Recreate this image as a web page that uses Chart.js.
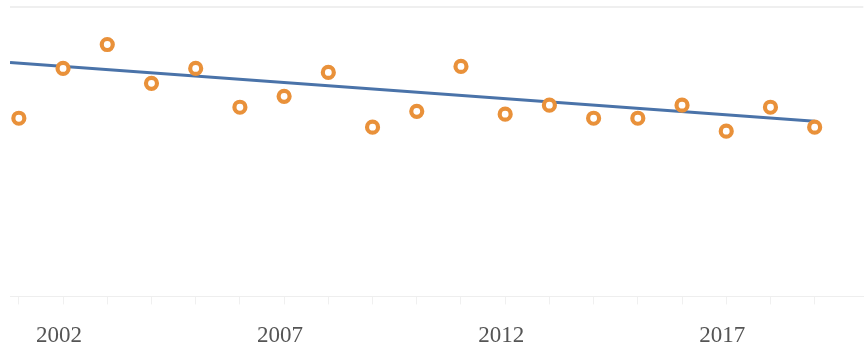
<!DOCTYPE html>
<html>
<head>
<meta charset="utf-8">
<script src="https://cdn.jsdelivr.net/npm/chart.js@4/dist/chart.umd.min.js"></script>
<style>
html,body{margin:0;padding:0;background:#fff;overflow:hidden;}
#wrap{width:865px;height:364px;position:relative;overflow:hidden;}
#c{position:absolute;left:0;top:-3px;}
</style>
</head>
<body>
<div id="wrap"><canvas id="c" width="873" height="371"></canvas></div>
<script>
const years = [2001,2002,2003,2004,2005,2006,2007,2008,2009,2010,2011,2012,2013,2014,2015,2016,2017,2018,2019];
const values = [12.30,15.74,17.39,14.71,15.74,13.06,13.81,15.46,11.68,12.78,15.88,12.58,13.20,12.30,12.30,13.20,11.41,13.06,11.68];
const trendYears = [2000.8, 2019];
const trendValues = [16.15, 12.10];
const tickLabels = [2002, 2007, 2012, 2017];

const pts = years.map((y,i)=>({x:y, y:values[i]}));
const trend = trendYears.map((y,i)=>({x:y, y:trendValues[i]}));

new Chart(document.getElementById('c'), {
  type: 'scatter',
  data: {
    datasets: [
      {
        type: 'line',
        data: trend,
        borderColor: '#4a73a9',
        borderWidth: 3,
        pointRadius: 0,
        fill: false,
        order: 2
      },
      {
        data: pts,
        pointRadius: 5.5,
        pointBorderWidth: 4.2,
        pointBorderColor: '#e9913a',
        pointBackgroundColor: '#ffffff',
        order: 1
      }
    ]
  },
  options: {
    responsive: false,
    animation: false,
    layout: { padding: { left: 10, top: 0, right: 0, bottom: 0 } },
    plugins: { legend: { display: false }, tooltip: { enabled: false } },
    scales: {
      x: {
        type: 'linear',
        min: 2000.8,
        max: 2020.1,
        afterBuildTicks: (axis) => {
          axis.ticks = years.map(v => ({ value: v }));
        },
        ticks: {
          autoSkip: false,
          maxRotation: 0,
          color: '#555',
          font: { family: 'Liberation Serif', size: 23 },
          padding: 18,
          labelOffset: -4,
          callback: (v) => tickLabels.includes(v) ? String(v) : ''
        },
        grid: {
          drawOnChartArea: false,
          drawTicks: true,
          tickLength: 8,
          color: '#f0f0f0'
        },
        border: { display: true, color: '#eeeeee', width: 1 }
      },
      y: {
        display: true,
        min: 0,
        max: 20,
        ticks: { display: false },
        grid: {
          drawTicks: false,
          color: (ctx) => ctx.tick && ctx.tick.value === 20 ? '#efefef' : 'rgba(0,0,0,0)',
          lineWidth: 2
        },
        border: { display: false }
      }
    }
  }
});
</script>
</body>
</html>
